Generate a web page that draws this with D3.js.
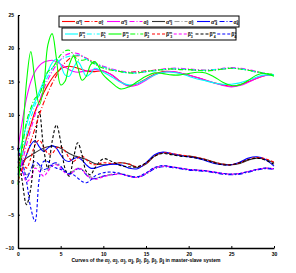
<!DOCTYPE html>
<html>
<head>
<meta charset="utf-8">
<script src="https://cdn.jsdelivr.net/npm/d3@7"></script>
<style>
  body { margin: 0; background: #fff; }
  text { font-family: "Liberation Sans", Arial, sans-serif; }
</style>
</head>
<body>
<div id="chart"></div>
<script>
// time samples shared by all curves
var times = [0,0.5,1,1.5,2,2.5,3,3.5,4,4.5,5,5.5,6,6.5,7,7.5,8,8.5,9,10,11,12,13,14,15,16,17,18,19,20,21,22,23,24,25,26,27,28,29,30];

// upper group, solid
var redSolid =     [2,4,6.5,8.5,10.5,12,13.3,14.5,15.5,16.3,16.9,17.2,17.3,17.2,17,16.8,16.6,16.5,16.5,16.6,16,15,14.4,14.7,15.4,16.1,16.5,16.5,16.3,16,15.6,15.2,14.8,14.5,14.3,14.5,15,15.5,15.9,16];
var magentaSolid = [5,9,12.5,15,16.5,17.4,17.9,18.1,18.2,18,17.6,17.2,16.8,16.5,16.4,16.5,16.6,16.7,16.8,16.6,16,15,14.3,14.5,15.2,16,16.4,16.5,16.3,16,15.6,15.2,14.8,14.4,14.2,14.4,14.9,15.5,15.9,16];
var cyanSolid =    [4,6,8.5,10.5,12,13.5,15,16.5,17.8,18.4,17.5,16,15.8,17,18,17,15.8,16.2,17,16.4,15.7,14.9,14.5,14.7,15.3,16,16.4,16.4,16.2,15.8,15.4,15.1,14.8,14.6,14.6,14.8,15.2,15.7,16,15.9];
var greenSolid =   [-0.5,6,15,19.5,15,11.5,14,20.5,22.2,18.5,14.5,15,17.5,18.8,17.2,15.2,15.8,17.5,18,16,14.8,13.9,14.2,15,15.8,16.3,16.2,16,16,16.2,16.4,16.3,15.7,14.9,14.4,14.5,15.2,16,16.2,15.8];
// upper group, dash-dot
var redDashDot =     [0,2,4,6,8,10,11.8,13.3,14.7,15.9,17,17.8,18.4,18.8,18.9,18.8,18.5,18.2,17.8,17.2,16.8,16.5,16.4,16.5,16.6,16.7,16.8,16.9,16.9,16.8,16.7,16.7,16.8,16.9,17,16.9,16.7,16.4,16.2,16];
var magentaDashDot = [1,3,5.5,7.8,10,12,13.8,15.3,16.5,17.5,18.3,18.9,19.2,19.3,19.2,18.9,18.5,18.1,17.8,17.3,16.9,16.6,16.4,16.4,16.5,16.7,16.9,17,17,16.9,16.8,16.7,16.8,17,17.1,17,16.8,16.5,16.2,16];
var cyanDashDot =    [1,4,7,9.5,11.5,13,14.5,15.8,17,17.8,18.3,18.6,18.8,18.9,19,18.8,18.4,18,17.7,17.2,16.8,16.5,16.3,16.3,16.5,16.6,16.8,16.9,16.9,16.8,16.7,16.7,16.8,16.9,17,16.9,16.7,16.4,16.2,16];
var greenDashDot =   [2,5,9,11,12.5,13,15,16.5,17,18,19,19.6,19.7,19,18.3,18.2,18.3,18,17.6,17,16.7,16.5,16.3,16.3,16.5,16.7,16.8,16.9,16.8,16.8,16.7,16.6,16.7,16.9,17,16.9,16.7,16.5,16.2,16.1];
// lower group
var blackSolid =   [2.8,3,3.5,3.9,4.3,4.7,5,5.2,5.3,5.2,5,4.6,4.2,3.9,3.7,3.5,3.3,3,2.7,2.5,2.6,2.8,2.6,2.1,2.6,3.8,4.3,4.1,3.9,3.8,3.6,3.3,2.9,2.6,2.5,2.7,3.2,3.5,3.3,2.8];
var grayDashDot =  [4,2.5,1,1.5,2.5,2.2,1.5,1.8,2.4,2.6,2.2,1.6,1.3,1.6,2,1.8,1.2,0.7,0.5,0.8,1.1,1.2,0.9,0.7,1.2,2,2.3,2.2,2,1.8,1.7,1.6,1.4,1.2,1.1,1.2,1.5,1.8,2,1.9];
var blueSolid =    [2,2.5,4,5.5,6.1,5.2,4.5,5,5.4,5,4,3.2,3,3.4,3.6,3.2,2.5,2,2,2.4,2.6,2.5,2,1.9,2.8,4,4.4,4.2,3.9,3.7,3.5,3.1,2.7,2.5,2.5,2.9,3.5,3.7,3.3,2.3];
var blueDashDot =  [3,1.5,0.5,1.8,3,2.5,1.8,2,2.6,2.8,2.3,1.5,1.1,1.4,1.9,1.7,1,0.5,0.4,0.8,1,1.1,0.8,0.6,1.1,1.9,2.2,2.1,1.9,1.7,1.6,1.5,1.3,1.1,1,1.1,1.4,1.7,1.9,1.8];
var redDashed =    [5,3,2,3.5,5.5,6.2,5.2,4.2,4.2,5,5.2,4.6,3.5,3,3.5,3.8,3.3,2.7,2.5,2.8,2.7,2.8,2.6,2.2,2.7,3.8,4.3,4.2,4,3.8,3.6,3.3,2.9,2.6,2.5,2.8,3.3,3.6,3.4,2.9];
var magentaDashed =[5,2,0,0.5,2,1.5,0.8,1.5,2.3,2.5,2,1.3,1,1.5,2,1.8,1,0.5,0.3,0.7,1,1.1,0.8,0.6,1.2,2,2.3,2.2,2,1.8,1.7,1.6,1.4,1.2,1.1,1.2,1.5,1.8,2,1.9];
var blackDashed =  [5,0,-3.5,-1,6,10.5,5,2,6,8.5,6,2,0.8,3.5,5.8,4,1.5,1,2,3.4,3,2.4,2.2,2.2,2.8,3.8,4.2,4,3.8,3.7,3.5,3.2,2.8,2.5,2.5,2.8,3.3,3.5,3.2,2.6];
var blueDashed =   [5,3,0,-4,-6,0.5,3,3,2.3,2,1.8,1.5,1.2,1,0.5,0,-0.2,0.2,0.8,1.3,1.4,1.2,0.8,0.7,1.3,2.1,2.4,2.2,2,1.8,1.7,1.6,1.4,1.2,1.1,1.2,1.5,1.8,2,1.9];

var xTicks = [0,5,10,15,20,25,30];
var yTicks = [-10,-5,0,5,10,15,20,25];

var dashDot = "5,2,1,2", dashed = "3,2";

// legend rows, in the order of the reference
var legendRow1 = [
  {v: redSolid, c: "#ff0000", d: null, s: "α", i: "1", p: "m"},
  {v: redDashDot, c: "#ff0000", d: dashDot, s: "α", i: "1", p: "s"},
  {v: magentaSolid, c: "#ff00ff", d: null, s: "α", i: "2", p: "m"},
  {v: magentaDashDot, c: "#ff00ff", d: dashDot, s: "α", i: "2", p: "s"},
  {v: blackSolid, c: "#333333", d: null, s: "α", i: "3", p: "m"},
  {v: grayDashDot, c: "#999999", d: dashDot, s: "α", i: "3", p: "s"},
  {v: blueSolid, c: "#0000ff", d: null, s: "α", i: "4", p: "m"},
  {v: blueDashDot, c: "#0000ff", d: dashDot, s: "α", i: "4", p: "s"}
];
var legendRow2 = [
  {v: cyanSolid, c: "#00ffff", d: null, s: "β", i: "1", p: "m"},
  {v: cyanDashDot, c: "#00ffff", d: dashDot, s: "β", i: "1", p: "s"},
  {v: greenSolid, c: "#00ff00", d: null, s: "β", i: "2", p: "m"},
  {v: greenDashDot, c: "#00ff00", d: dashDot, s: "β", i: "2", p: "s"},
  {v: redDashed, c: "#ff0000", d: dashed, s: "β", i: "3", p: "m"},
  {v: magentaDashed, c: "#ff00ff", d: dashed, s: "β", i: "3", p: "s"},
  {v: blackDashed, c: "#000000", d: dashed, s: "β", i: "4", p: "m"},
  {v: blueDashed, c: "#0000ff", d: dashed, s: "β", i: "4", p: "s"}
];

var width = 296, height = 273;

var x = d3.scaleLinear().domain([0, 30]).range([18, 274]);
var y = d3.scaleLinear().domain([-10, 25]).range([248, 15]);

var svg = d3.select("#chart").append("svg")
  .attr("width", width)
  .attr("height", height);

var line = d3.line()
  .x(function(d, i) { return x(times[i]); })
  .y(function(d) { return y(d); })
  .curve(d3.curveCatmullRom);

// lower group first, upper group on top
var allSeries = legendRow1.slice(4).concat(legendRow2.slice(4))
  .concat(legendRow1.slice(0, 4)).concat(legendRow2.slice(0, 4));

svg.selectAll(".curve")
  .data(allSeries)
  .enter().append("path")
  .attr("class", "curve")
  .attr("d", function(d) { return line(d.v); })
  .attr("fill", "none")
  .attr("stroke", function(d) { return d.c; })
  .attr("stroke-width", 1.1)
  .attr("stroke-dasharray", function(d) { return d.d; });

// axes, matlab style ticks pointing inwards
var xAxis = d3.axisBottom(x).tickValues(xTicks).tickSizeInner(-2).tickSizeOuter(0).tickPadding(4);
var yAxis = d3.axisLeft(y).tickValues(yTicks).tickSizeInner(-2).tickSizeOuter(0).tickPadding(4);

svg.append("g")
  .attr("transform", "translate(0," + y(-10) + ")")
  .call(xAxis)
  .call(function(g) {
    g.select(".domain").attr("stroke-width", 1.4);
    g.selectAll("text").attr("font-size", 5).attr("font-weight", "bold");
  });

svg.append("g")
  .attr("transform", "translate(" + x(0) + ",0)")
  .call(yAxis)
  .call(function(g) {
    g.select(".domain").attr("stroke-width", 1.4);
    g.selectAll("text").attr("font-size", 5).attr("font-weight", "bold");
  });

// x label
var lab = svg.append("text")
  .attr("x", 146)
  .attr("y", 262)
  .attr("text-anchor", "middle")
  .attr("font-size", 5)
  .attr("font-weight", "bold")
  .text("Curves of the ");
var labSyms = [["α","1"],["α","2"],["α","3"],["α","4"],["β","1"],["β","2"],["β","3"],["β","4"]];
labSyms.forEach(function(s, k) {
  lab.append("tspan").text(s[0]);
  lab.append("tspan").attr("dy", -1.5).attr("font-size", 3.5).text("s");
  lab.append("tspan").attr("dx", -2).attr("dy", 3).attr("font-size", 3.5).text(s[1]);
  lab.append("tspan").attr("dy", -1.5).text(k < labSyms.length - 1 ? ", " : " ");
});
lab.append("tspan").text("in master-slave system");

// legends
function drawLegend(rows, x0, y0, w, h) {
  var g = svg.append("g").attr("transform", "translate(" + x0 + "," + y0 + ")");
  g.append("rect")
    .attr("width", w).attr("height", h)
    .attr("fill", "#fff").attr("stroke", "#000").attr("stroke-width", 1);
  var step = w / rows.length;
  var item = g.selectAll(".item").data(rows).enter().append("g")
    .attr("transform", function(d, i) { return "translate(" + (3 + i * step) + "," + (h / 2) + ")"; });
  item.append("line")
    .attr("x1", 0).attr("x2", 13)
    .attr("stroke", function(d) { return d.c; })
    .attr("stroke-width", 1.1)
    .attr("stroke-dasharray", function(d) { return d.d; });
  var t = item.append("text")
    .attr("x", 14).attr("y", 2)
    .attr("font-size", 5).attr("font-weight", "bold");
  t.append("tspan").text(function(d) { return d.s; });
  t.append("tspan").attr("dy", -2).attr("font-size", 3.5).text(function(d) { return d.p; });
  t.append("tspan").attr("dx", -2).attr("dy", 3.5).attr("font-size", 3.5).text(function(d) { return d.i; });
}

drawLegend(legendRow1, 59, 16, 180, 11);
drawLegend(legendRow2, 62, 28, 174, 12);
</script>
</body>
</html>
